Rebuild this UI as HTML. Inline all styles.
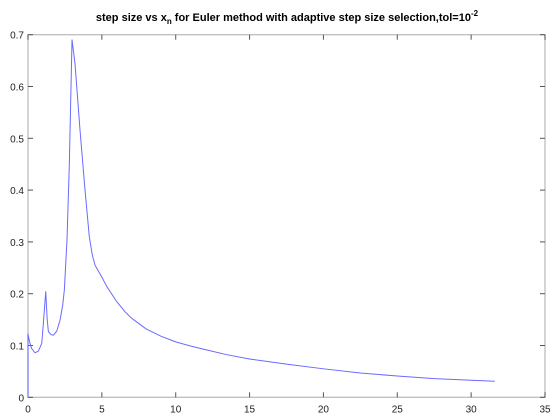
<!DOCTYPE html>
<html><head><meta charset="utf-8"><style>
html,body{margin:0;padding:0;background:#fff;}
svg{display:block;font-family:"Liberation Sans",Arial,sans-serif;}
</style></head><body>
<svg id="chart" width="560" height="420" viewBox="0 0 560 420">
<rect x="0" y="0" width="560" height="420" fill="#fff"/>
<text x="287" y="21" text-anchor="middle" font-size="11" font-weight="bold" fill="#000">step size vs x<tspan font-size="8" dy="3">n</tspan><tspan dy="-3"> for Euler method with adaptive step size selection,tol=10</tspan><tspan font-size="8" dy="-5">-2</tspan></text>
<g id="axes"></g>
<g id="series"></g>
</svg>
<script>
const xTicks = [0,5,10,15,20,25,30,35];
const yTicks = [0,0.1,0.2,0.3,0.4,0.5,0.6,0.7];
const yTickLabels = ["0","0.1","0.2","0.3","0.4","0.5","0.6","0.7"];
const xVals = [0,0,0.1,0.25,0.47,0.7,0.93,1.04,1.2,1.3,1.38,1.55,1.72,1.95,2.17,2.35,2.46,2.64,2.8,2.98,3.18,3.52,3.86,4.15,4.35,4.54,5,5.33,6,6.57,7,8,9,10,11,12,13.5,15,17.5,20,22.5,25,27.5,30,31.6];
const yVals = [0,0.122,0.108,0.094,0.086,0.089,0.104,0.143,0.204,0.15,0.127,0.121,0.120,0.128,0.149,0.178,0.207,0.304,0.452,0.69,0.645,0.516,0.40,0.31,0.275,0.255,0.232,0.214,0.185,0.165,0.153,0.132,0.118,0.107,0.099,0.092,0.082,0.074,0.064,0.055,0.047,0.041,0.036,0.033,0.031];

const L=28,R=545,T=34.7,B=397.3;
const xS=v=>L+(v-0)/(35-0)*(R-L);
const yS=v=>B-(v-0)/(0.7-0)*(B-T);
const NS="http://www.w3.org/2000/svg";
const axes=document.getElementById('axes');
const series=document.getElementById('series');
function mk(tag,attrs,parent){const e=document.createElementNS(NS,tag);for(const k in attrs)e.setAttribute(k,attrs[k]);parent.appendChild(e);return e;}

const box=mk('rect',{x:L,y:T,width:R-L,height:B-T,fill:'none',stroke:'#bdbdbd','stroke-width':1.3},axes);



xTicks.forEach((t,i)=>{
  const x=xS(t);
  const a=mk('line',{x1:x,x2:x,y1:B,y2:B-5,stroke:'#555','stroke-width':1},axes);
  
  
  const b=mk('line',{x1:x,x2:x,y1:T,y2:T+5,stroke:'#555','stroke-width':1},axes);
  
  
  const tx=mk('text',{x:x,y:B+15,'text-anchor':'middle','font-size':10,fill:'#222'},axes);
  tx.textContent=String(t);
  
  
});
yTicks.forEach((t,i)=>{
  const y=yS(t);
  const a=mk('line',{x1:L,x2:L+5,y1:y,y2:y,stroke:'#555','stroke-width':1},axes);
  
  
  const b=mk('line',{x1:R,x2:R-5,y1:y,y2:y,stroke:'#555','stroke-width':1},axes);
  
  
  const tx=mk('text',{x:L-4,y:y+4,'text-anchor':'end','font-size':10,fill:'#222'},axes);
  tx.textContent=yTickLabels[i];
  
  
});

const pts=xVals.map((v,i)=>xS(v).toFixed(2)+','+yS(yVals[i]).toFixed(2)).join(' ');
const line=mk('polyline',{points:pts,fill:'none',stroke:'#6a6aff','stroke-width':1,'stroke-linejoin':'round'},series);


</script>
</body></html>
